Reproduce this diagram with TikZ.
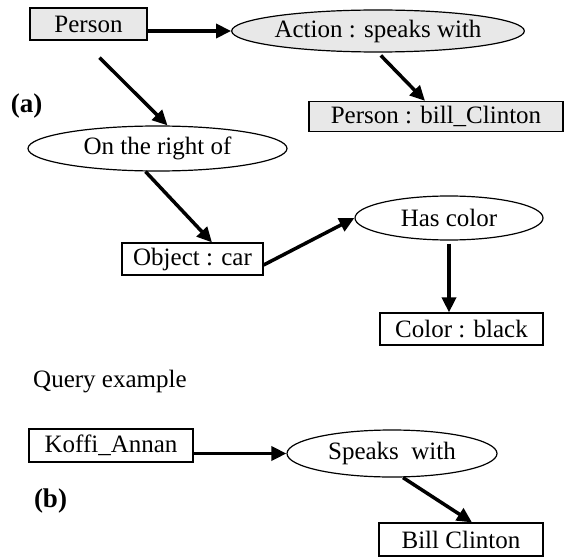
\documentclass[tikz,border=0pt]{standalone}
\usepackage{fontspec}
\setmainfont{Liberation Serif}
\usepackage{tikz}
\usetikzlibrary{arrows.meta,shapes.geometric}
\definecolor{boxgray}{HTML}{E8E8E8}

\begin{document}
\begin{tikzpicture}[
  x=1pt,y=1pt,
  every node/.style={font=\fontsize{25}{30}\selectfont,inner sep=0pt},
  entity/.style={draw=black,line width=1.2pt,rectangle},
  relation/.style={draw=black,line width=1.2pt,ellipse},
  shaded/.style={fill=boxgray},
  flow/.style={-{Triangle[length=15pt,width=14pt]},draw=black,line width=3.5pt},
  tag/.style={font=\fontsize{27}{32}\selectfont\bfseries}
]
  \useasboundingbox (0,0) rectangle (564,558);
  \node[tag] (labela) at (26.5,452) {(a)};
  \node[tag] (labelb) at (50.5,57) {(b)};
  \node[entity,shaded,minimum width=117pt,minimum height=32pt] (person) at (88.5,534) {Person};
  \node[relation,shaded,minimum width=280pt,minimum height=42pt] (action) at (378,527) {Action : speaks with};
  \node[entity,shaded,minimum width=254pt,minimum height=30pt] (bill) at (436,441.5) {Person : bill\_Clinton};
  \node[relation,minimum width=259pt,minimum height=45pt] (rightof) at (157.5,409.5) {On the right of};
  \node[entity,minimum width=141pt,minimum height=32pt] (car) at (192.5,299) {Object : car};
  \node[relation,minimum width=188pt,minimum height=44pt] (hascolor) at (449,340) {Has color};
  \node[entity,minimum width=163pt,minimum height=32pt] (black) at (461.5,229) {Color : black};
  \node[anchor=base west] (query) at (33,171) {Query example};
  \node[entity,minimum width=164pt,minimum height=33pt] (koffi) at (111,112.5) {Koffi\_Annan};
  \node[relation,minimum width=210pt,minimum height=47pt] (speaks) at (392,104.5) {Speaks\ \ with};
  \node[entity,minimum width=164pt,minimum height=33pt] (clinton) at (461,18.5) {Bill Clinton};
  \draw[flow] (person.east |- action.west) -- (action.west);
  \draw[flow,shorten <=24pt] ([xshift=-6pt]person.south) -- ([xshift=10pt]rightof.north);
  \draw[flow,shorten <=4pt] (action.south) -- ([xshift=-11pt]bill.north);
  \draw[flow] ([xshift=-12pt]rightof.south) -- ([xshift=19.5pt]car.north);
  \draw[flow] ([yshift=-6pt]car.east) -- (hascolor.west);
  \draw[flow,shorten <=3pt] (hascolor.south) -- (hascolor.south |- black.north);
  \draw[flow] (koffi.east |- speaks.west) -- (speaks.west);
  \draw[flow] ([xshift=11pt]speaks.south) -- ([xshift=11pt]clinton.north);
\end{tikzpicture}
\end{document}
